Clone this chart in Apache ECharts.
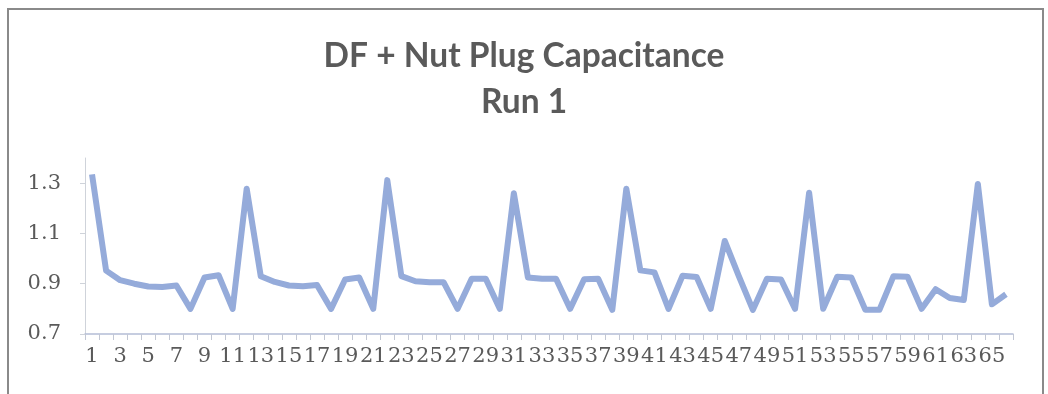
<!DOCTYPE html>
<html>
<head>
<meta charset="utf-8">
<script src="https://cdn.jsdelivr.net/npm/echarts@6/dist/echarts.min.js"></script>
<style>
  html, body { margin: 0; padding: 0; background: #fff; }
  #chart { width: 1048px; height: 394px; }
</style>
</head>
<body>
<div id="chart"></div>
<script>
// Sample index 1..66
const categories = Array.from({ length: 66 }, (_, i) => String(i + 1));

// Capacitance readings, run 1
const capacitance = [
  1.335, 0.952, 0.914, 0.900, 0.889, 0.887, 0.893, 0.800, 0.925, 0.934,
  0.800, 1.278, 0.930, 0.907, 0.893, 0.890, 0.895, 0.800, 0.917, 0.925,
  0.800, 1.312, 0.930, 0.910, 0.906, 0.906, 0.800, 0.920, 0.920, 0.800,
  1.260, 0.925, 0.920, 0.920, 0.800, 0.918, 0.920, 0.796, 1.278, 0.953,
  0.945, 0.800, 0.932, 0.927, 0.800, 1.070, 0.930, 0.796, 0.920, 0.917,
  0.800, 1.262, 0.800, 0.928, 0.925, 0.796, 0.796, 0.930, 0.928, 0.800,
  0.878, 0.843, 0.835, 1.297, 0.818, 0.858
];

const titleLines = ['DF + Nut Plug Capacitance', 'Run 1'];

const chart = echarts.init(document.getElementById('chart'), null, { renderer: 'canvas' });

chart.setOption({
  animation: false,
  backgroundColor: '#ffffff',
  title: {
    text: titleLines.join('\n'),
    left: 'center',
    top: 28,
    textStyle: {
      fontFamily: 'Lato',
      fontWeight: 'bold',
      fontSize: 33.5,
      lineHeight: 46,
      color: '#5a5a5a'
    }
  },
  graphic: [{
    type: 'rect',
    shape: { x: 8, y: 9, width: 1035, height: 420 },
    style: { fill: 'none', stroke: '#8a8a8a', lineWidth: 2 },
    silent: true
  }],
  grid: { left: 85, right: 35, top: 158, bottom: 60 },
  xAxis: {
    type: 'category',
    data: categories,
    boundaryGap: true,
    axisLine: { lineStyle: { color: '#b4bdd6', width: 1.5 } },
    axisTick: { show: true, alignWithLabel: false, interval: 0, length: 6, lineStyle: { color: '#c2c7d4' } },
    axisLabel: {
      interval: 1,
      margin: 12,
      fontFamily: 'DejaVu Serif',
      fontSize: 21,
      color: '#5a5a5a'
    },
    splitLine: { show: false }
  },
  yAxis: {
    type: 'value',
    min: 0.7,
    max: 1.4,
    interval: 0.2,
    axisLine: { show: true, lineStyle: { color: '#cfd3da', width: 1 } },
    axisTick: { show: true, length: 5, lineStyle: { color: '#cfd3da' } },
    axisLabel: {
      showMaxLabel: false,
      margin: 24,
      fontFamily: 'DejaVu Serif',
      fontSize: 21,
      color: '#5a5a5a',
      formatter: v => v.toFixed(1)
    },
    splitLine: { show: false }
  },
  series: [{
    type: 'line',
    data: capacitance,
    showSymbol: false,
    symbol: 'none',
    lineStyle: { color: '#95abda', width: 6, join: 'round' },
    silent: true
  }]
});
</script>
</body>
</html>
